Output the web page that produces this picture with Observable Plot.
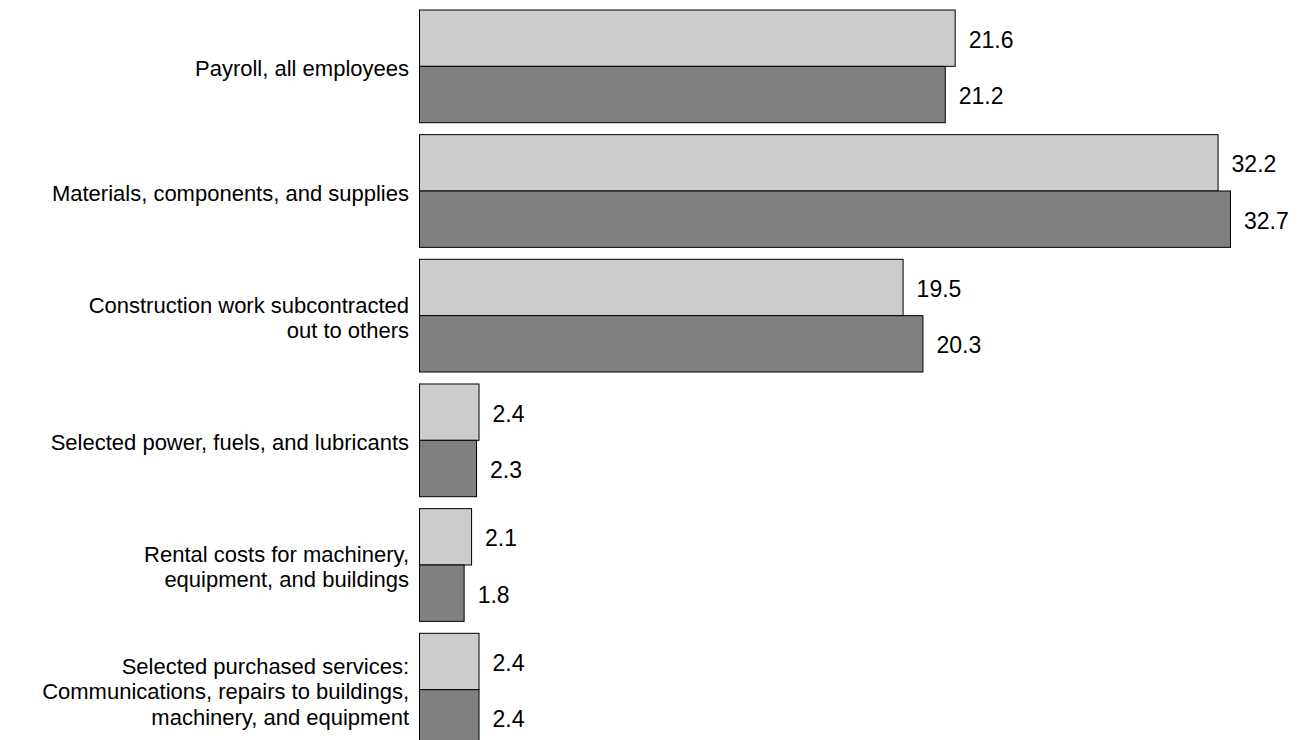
<!DOCTYPE html>
<html>
<head>
<meta charset="utf-8">
<script src="https://cdn.jsdelivr.net/npm/d3@7"></script>
<script src="https://cdn.jsdelivr.net/npm/@observablehq/plot@0.6"></script>
<style>
  html, body { margin: 0; padding: 0; background: #fff; }
  #chart { font-family: "Liberation Sans", Arial, sans-serif; }
</style>
</head>
<body>
<div id="chart"></div>
<script>
const categories = [
  "Payroll, all employees",
  "Materials, components, and supplies",
  "Construction work subcontracted\nout to others",
  "Selected power, fuels, and lubricants",
  "Rental costs for machinery,\nequipment, and buildings",
  "Selected purchased services:\nCommunications, repairs to buildings,\nmachinery, and equipment"
];
const series = ["First period", "Second period"];
const firstValues = [21.6, 32.2, 19.5, 2.4, 2.1, 2.4];
const secondValues = [21.2, 32.7, 20.3, 2.3, 1.8, 2.4];
const seriesColors = ["#cccccc", "#808080"];

const data = [];
categories.forEach((c, i) => {
  data.push({category: c, series: series[0], value: firstValues[i]});
  data.push({category: c, series: series[1], value: secondValues[i]});
});

const chart = Plot.plot({
  width: 1297,
  height: 750,
  marginLeft: 419.5,
  marginRight: 9.5,
  marginTop: 10,
  marginBottom: 4,
  style: {fontFamily: "'Liberation Sans', Arial, sans-serif", fontSize: "22px", background: "white", color: "black"},
  x: {domain: [0, 35], axis: null},
  fy: {domain: categories, paddingInner: 0.096, paddingOuter: 0, round: false, label: null},
  y: {domain: series, padding: 0, round: false, axis: null},
  color: {domain: series, range: seriesColors},
  marks: [
    Plot.barX(data, {fy: "category", y: "series", x: "value", fill: "series", stroke: "black", strokeWidth: 1}),
    Plot.text(data, {fy: "category", y: "series", x: "value", text: d => d.value.toFixed(1), textAnchor: "start", dx: 13, dy: 1.5, fontSize: 23, fill: "black"}),
    Plot.axisFy({anchor: "left", tickSize: 0, tickPadding: 11, fontSize: 22, lineHeight: 1.15, label: null, dy: 1})
  ]
});
document.getElementById("chart").appendChild(chart);
</script>
</body>
</html>
